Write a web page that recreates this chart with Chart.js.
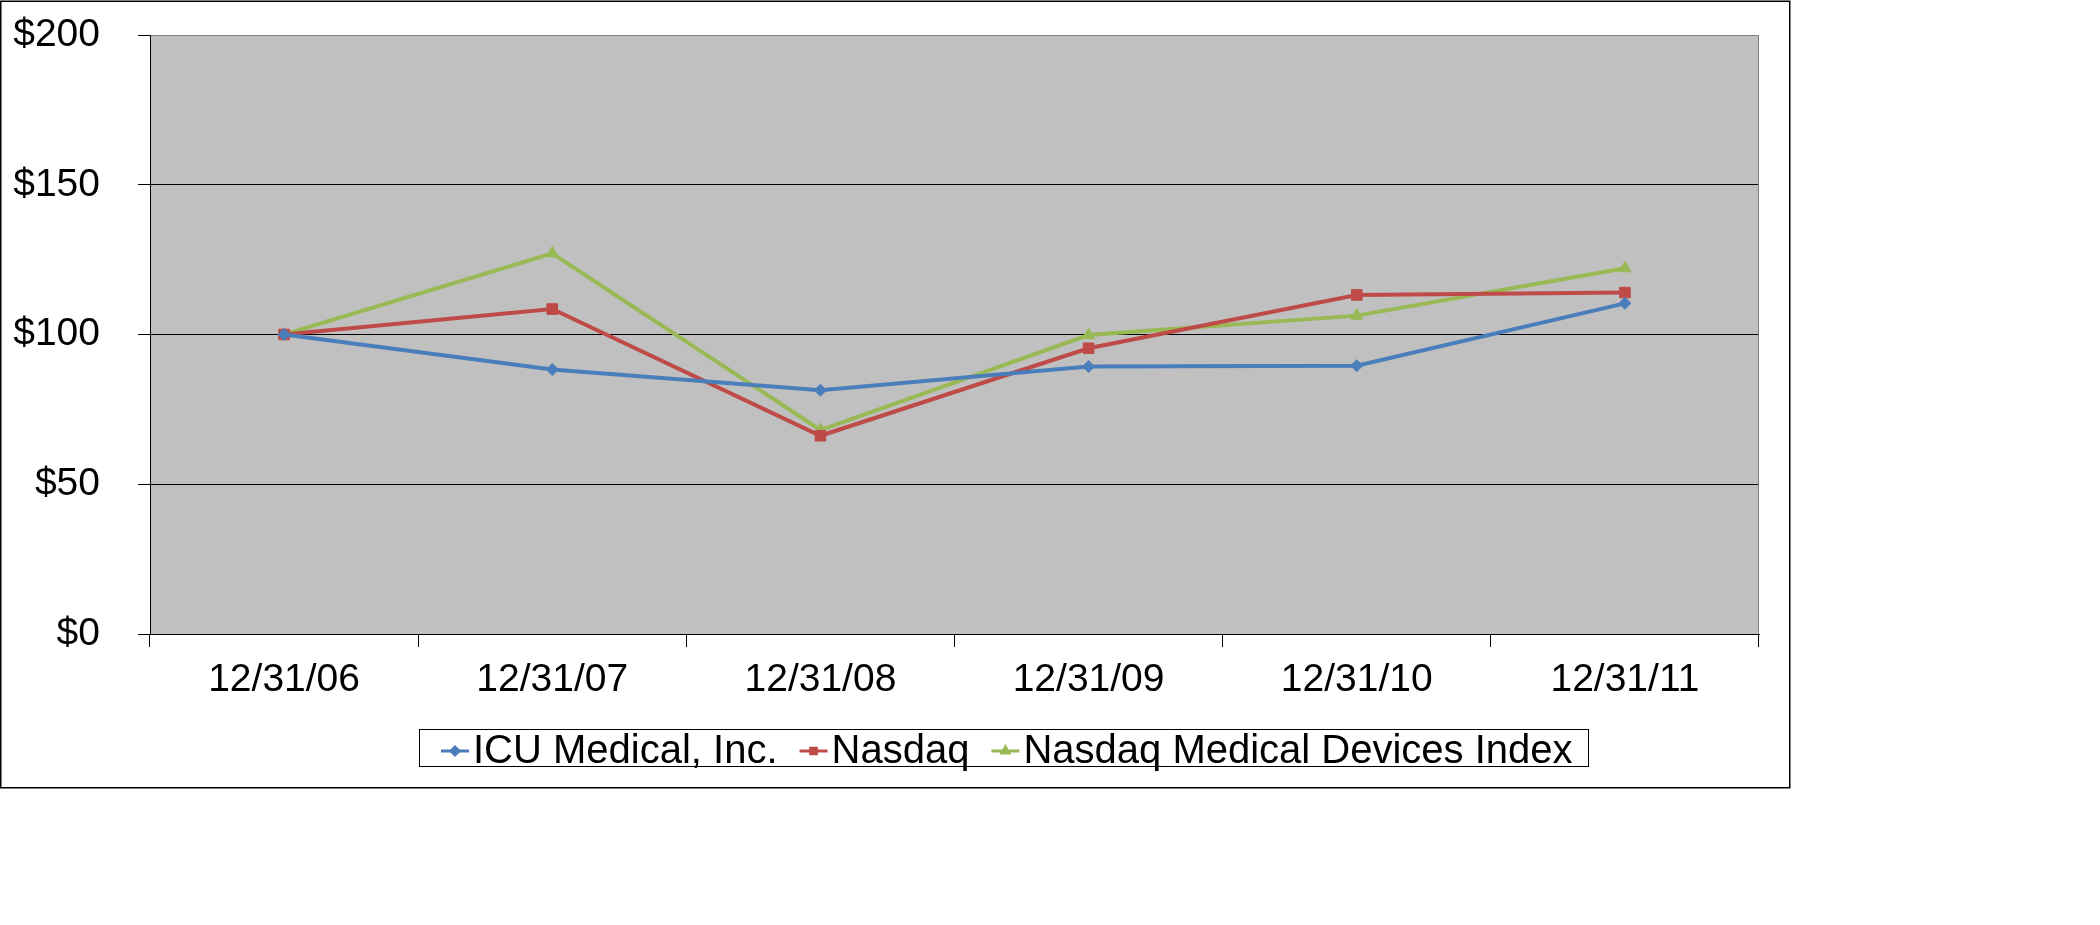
<!DOCTYPE html>
<html><head><meta charset="utf-8">
<script src="https://cdn.jsdelivr.net/npm/chart.js@4.4.0/dist/chart.umd.min.js"></script>
<style>html,body{margin:0;padding:0;background:#fff}#wrap{width:2100px;height:925px;position:relative}canvas{display:block}</style>
</head><body><div id="wrap"><canvas id="c" width="2100" height="925"></canvas></div>
<script>
const categories = ['12/31/06', '12/31/07', '12/31/08', '12/31/09', '12/31/10', '12/31/11'];
const icuMedical = [100, 88.3, 81.4, 89.3, 89.6, 110.4];
const nasdaq = [100, 108.5, 66.2, 95.4, 113.2, 114.0];
const nasdaqMedicalDevices = [100, 127.1, 68.1, 99.8, 106.3, 122.1];
const seriesNames = ['ICU Medical, Inc.', 'Nasdaq', 'Nasdaq Medical Devices Index'];
const yTickValues = [0, 50, 100, 150, 200];
const yTickLabels = ['$0', '$50', '$100', '$150', '$200'];

const FAMILY = '"Liberation Sans", Arial, Helvetica, sans-serif';
const COLORS = ['#4A7EBB', '#BE4B48', '#98B954'];
const STYLES = ['rectRot', 'rect', 'triangle'];
const RADII = [6, 7.5, 7];

const bgPlugin = {
  id: 'bg',
  beforeDraw(chart) {
    const ctx = chart.ctx, a = chart.chartArea;
    ctx.save();
    ctx.fillStyle = '#fff';
    ctx.fillRect(0, 0, chart.width, chart.height);
    ctx.fillStyle = '#C0C0C0';
    ctx.fillRect(a.left, a.top, a.right - a.left, a.bottom - a.top);
    ctx.strokeStyle = '#000';
    ctx.lineWidth = 1.5;
    ctx.strokeRect(0.75, 1.25, 1789, 786.5);
    ctx.restore();
  },
  beforeDatasetsDraw(chart) {
    const ctx = chart.ctx, a = chart.chartArea;
    ctx.save();
    ctx.strokeStyle = '#808080';
    ctx.lineWidth = 1;
    ctx.beginPath();
    ctx.moveTo(a.right - 0.5, a.top);
    ctx.lineTo(a.right - 0.5, a.bottom);
    ctx.stroke();
    ctx.restore();
  },
  afterDraw(chart) {
    const ctx = chart.ctx;
    ctx.save();
    ctx.font = '40px ' + FAMILY;
    ctx.strokeStyle = '#000';
    ctx.lineWidth = 1;
    ctx.strokeRect(419.5, 729.5, 1169, 37);
    let x = 441;
    const lineY = 751;
    chart.data.datasets.forEach((ds, i) => {
      ctx.strokeStyle = ds.borderColor;
      ctx.lineWidth = 3;
      ctx.beginPath();
      ctx.moveTo(x, lineY);
      ctx.lineTo(x + 28, lineY);
      ctx.stroke();
      ctx.fillStyle = ds.borderColor;
      ctx.strokeStyle = ds.borderColor;
      Chart.helpers.drawPoint(ctx, {pointStyle: ds.pointStyle, radius: 4, borderWidth: 1}, x + 14, lineY);
      ctx.fillStyle = '#000';
      ctx.textBaseline = 'alphabetic';
      ctx.textAlign = 'left';
      ctx.fillText(ds.label, x + 32, 763);
      x = x + 32 + ctx.measureText(ds.label).width + 22;
    });
    ctx.restore();
  }
};

const mk = (i, data) => ({
  label: seriesNames[i],
  data: data,
  borderColor: COLORS[i],
  backgroundColor: COLORS[i],
  borderWidth: 4,
  pointStyle: STYLES[i],
  pointRadius: RADII[i],
  pointHoverRadius: RADII[i],
  pointBorderWidth: 1,
  pointBackgroundColor: COLORS[i],
  pointBorderColor: COLORS[i],
  tension: 0,
  fill: false
});

new Chart(document.getElementById('c'), {
  type: 'line',
  data: {
    labels: categories,
    datasets: [mk(0, icuMedical), mk(1, nasdaq), mk(2, nasdaqMedicalDevices)]
  },
  options: {
    responsive: false,
    animation: false,
    devicePixelRatio: 1,
    layout: {padding: {left: 0, top: 35, right: 341, bottom: 231}},
    plugins: {legend: {display: false}, tooltip: {enabled: false}, title: {display: false}},
    scales: {
      x: {
        type: 'category',
        offset: true,
        grid: {offset: true, drawOnChartArea: false, drawTicks: true, tickLength: 13, color: '#000', lineWidth: 1},
        border: {display: true, color: '#000', width: 1},
        ticks: {font: {size: 39, family: FAMILY}, color: '#000', padding: 10, maxRotation: 0, autoSkip: false},
        afterFit(s) { s.height = 60; s.paddingLeft = 0; s.paddingRight = 0; }
      },
      y: {
        min: 0, max: 200,
        afterBuildTicks(s) { s.ticks = yTickValues.map(v => ({value: v})); },
        ticks: {
          font: {size: 39, family: FAMILY}, color: '#000', padding: 38,
          callback: (v) => yTickLabels[yTickValues.indexOf(v)]
        },
        grid: {
          color: (c) => (c.tick && c.tick.value === 200) ? '#808080' : '#000',
          tickColor: '#000', tickLength: 12, lineWidth: 1
        },
        border: {display: true, color: '#000', width: 1},
        afterFit(s) { s.width = 150; s.paddingTop = 0; s.paddingBottom = 0; }
      }
    }
  },
  plugins: [bgPlugin]
});
</script>
</body></html>
